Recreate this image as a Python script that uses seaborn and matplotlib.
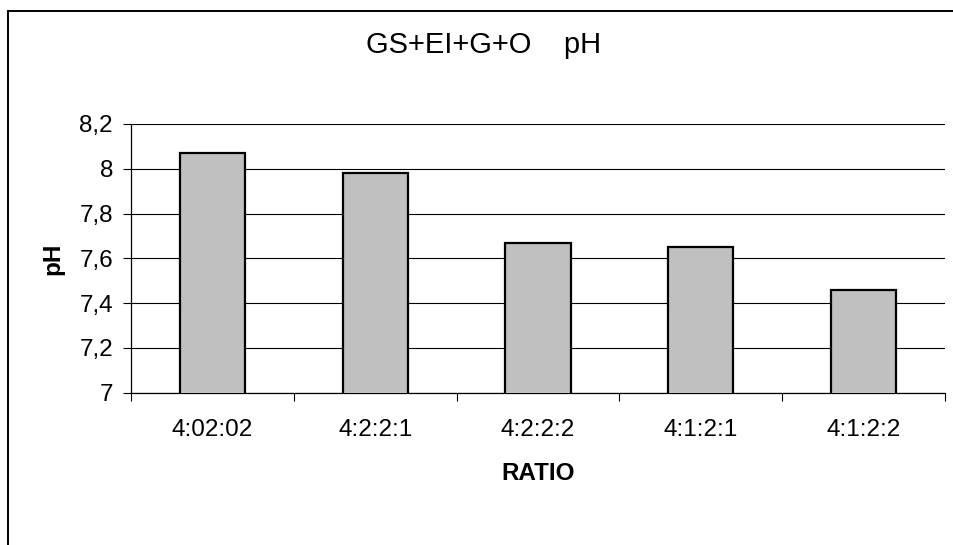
import matplotlib
matplotlib.use("Agg")
import matplotlib.pyplot as plt
import seaborn as sns
import pandas as pd
from matplotlib.ticker import FuncFormatter, FixedLocator
from matplotlib.patches import Rectangle

categories = ["4:02:02", "4:2:2:1", "4:2:2:2", "4:1:2:1", "4:1:2:2"]
ph_values = [8.07, 7.98, 7.67, 7.65, 7.46]
y_ticks = [7.0, 7.2, 7.4, 7.6, 7.8, 8.0, 8.2]

sns.set_theme(style="white")
plt.rcParams['font.family'] = ['Liberation Sans', 'DejaVu Sans']

df = pd.DataFrame({"RATIO": categories, "pH": ph_values})

fig = plt.figure(figsize=(9.54, 5.45), dpi=100)
ax = fig.add_axes([131/954, 1 - 392.7/545, (945 - 131)/954, (392.7 - 124)/545])

sns.barplot(data=df, x="RATIO", y="pH", ax=ax, color="#C0C0C0",
            edgecolor="black", linewidth=1.6, width=0.4, saturation=1, zorder=3)

ax.set_ylim(7.0, 8.2)
ax.set_xlim(-0.5, len(categories) - 0.5)
ax.yaxis.set_major_locator(FixedLocator(y_ticks))
ax.yaxis.set_major_formatter(FuncFormatter(lambda v, p: (f"{v:.1f}".rstrip('0').rstrip('.')).replace('.', ',')))
ax.grid(axis='y', color='black', linewidth=0.8, zorder=0)
ax.set_axisbelow(True)

for s in ["top", "right"]:
    ax.spines[s].set_visible(False)
for s in ["left", "bottom"]:
    ax.spines[s].set_color("black")
    ax.spines[s].set_linewidth(0.9)

ax.tick_params(axis='y', which='major', direction='out', length=6, width=0.8,
               color='black', left=True, labelsize=17.5, pad=7, labelcolor='black')
ax.tick_params(axis='x', which='major', length=0, labelsize=17.5, pad=19, labelcolor='black')
ax.set_xticks(range(len(categories)))
ax.set_xticks([i - 0.5 for i in range(len(categories) + 1)], minor=True)
ax.tick_params(axis='x', which='minor', direction='out', length=6, width=0.8,
               color='black', bottom=True)

ax.set_xlabel("RATIO", fontsize=17.5, fontweight='bold', labelpad=15, color='black')
ax.set_ylabel("pH", fontsize=17.5, fontweight='bold', labelpad=11, color='black')

fig.text(484/954, 1 - 45/545, "GS+EI+G+O    pH", ha='center', va='center',
         fontsize=21, color='black')

fig.patches.append(Rectangle((8/954, -0.1), 1.2, 1 - 11/545 + 0.1,
                             transform=fig.transFigure, fill=False,
                             edgecolor='black', linewidth=1.4))

fig.savefig("out.png", dpi=100)
